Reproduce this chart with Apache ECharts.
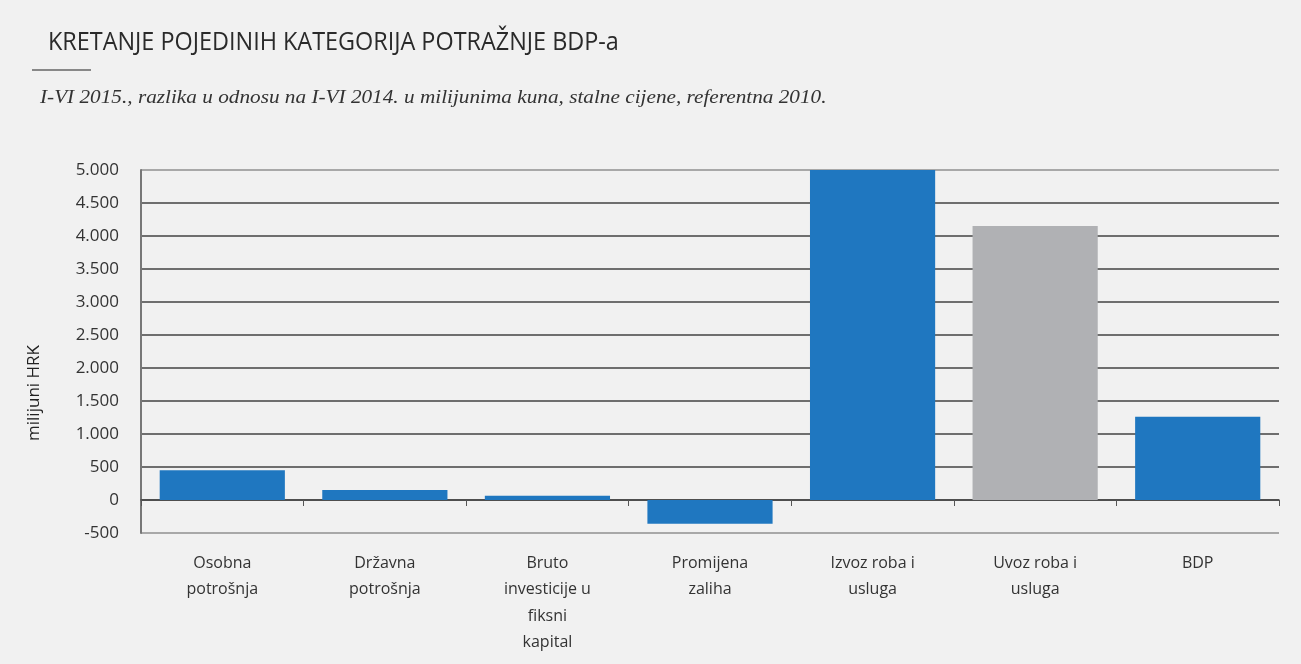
<!DOCTYPE html>
<html><head><meta charset="utf-8">
<script src="https://cdn.jsdelivr.net/npm/echarts@6/dist/echarts.min.js"></script>
<style>html,body{margin:0;padding:0;background:#f1f1f1}#c{width:1301px;height:664px}</style>
</head><body><div id="c"></div>
<script>
const categories = ['Osobna\npotrošnja','Državna\npotrošnja','Bruto\ninvesticije u\nfiksni\nkapital','Promijena\nzaliha','Izvoz roba i\nusluga','Uvoz roba i\nusluga','BDP'];
const values = [450, 150, 65, -360, 5000, 4150, 1260];
const barColors = ['#1f77c0','#1f77c0','#1f77c0','#1f77c0','#1f77c0','#b0b1b4','#1f77c0'];
const titleText = 'KRETANJE POJEDINIH KATEGORIJA POTRAŽNJE BDP-a';
const subtitleText = 'I-VI 2015., razlika u odnosu na I-VI 2014. u milijunima kuna, stalne cijene, referentna 2010.';
const yName = 'milijuni HRK';

const gridColors = ['#a8a8a8','#6e6e6e','#6e6e6e','#6e6e6e','#6e6e6e','#6e6e6e','#6e6e6e','#6e6e6e','#6e6e6e','#6e6e6e','#6e6e6e'];

const chart = echarts.init(document.getElementById('c'));
chart.setOption({
  backgroundColor: '#f1f1f1',
  animation: false,
  grid: {left: 141, right: 22, top: 170, bottom: 131, containLabel: false, outerBoundsMode: 'none'},
  graphic: [
    {type:'text', x: 48, y: 43, scaleX: 0.9, style:{text: titleText, font: '26px "Open Sans", sans-serif', fill:'#2a2a2a', verticalAlign:'middle'}},
    {type:'line', shape:{x1:32, y1:70, x2:91, y2:70}, style:{stroke:'#888', lineWidth:2}},
    {type:'text', x: 40, y: 98, scaleX: 1.18, style:{text: subtitleText, font: 'italic 18px "Liberation Serif", serif', fill:'#333', verticalAlign:'middle'}},
    {type:'text', x: 34, y: 393, rotation: Math.PI/2, style:{text: yName, font: '17px "Open Sans", sans-serif', fill:'#222', align:'center', verticalAlign:'middle'}}
  ],
  xAxis: {
    type: 'category', data: categories,
    axisLine: {onZero: true, lineStyle: {color: '#444', width: 1.5}},
    axisTick: {show: true, length: 6, lineStyle: {color: '#555'}},
    axisLabel: {interval: 0, color: '#333', fontSize: 16, lineHeight: 26.5, fontFamily: '"Open Sans", sans-serif', margin: 17, formatter: v => v}
  },
  yAxis: {
    type: 'value', min: -500, max: 5000, interval: 500,
    axisLine: {show: true, lineStyle: {color: '#777', width: 2}},
    axisTick: {show: false},
    splitLine: {lineStyle: {color: gridColors, width: 1.8}},
    axisLabel: {color: '#333', fontSize: 17, margin: 22, fontFamily: '"Open Sans", sans-serif',
      formatter: v => { const s = Math.abs(v).toString().replace(/\B(?=(\d{3})+(?!\d))/g, '.'); return (v < 0 ? '-' : '') + s; }}
  },
  series: [{
    type: 'bar', barCategoryGap: '23%',
    data: values.map((v,i) => ({value: v, itemStyle: {color: barColors[i]}}))
  }]
});
</script></body></html>
